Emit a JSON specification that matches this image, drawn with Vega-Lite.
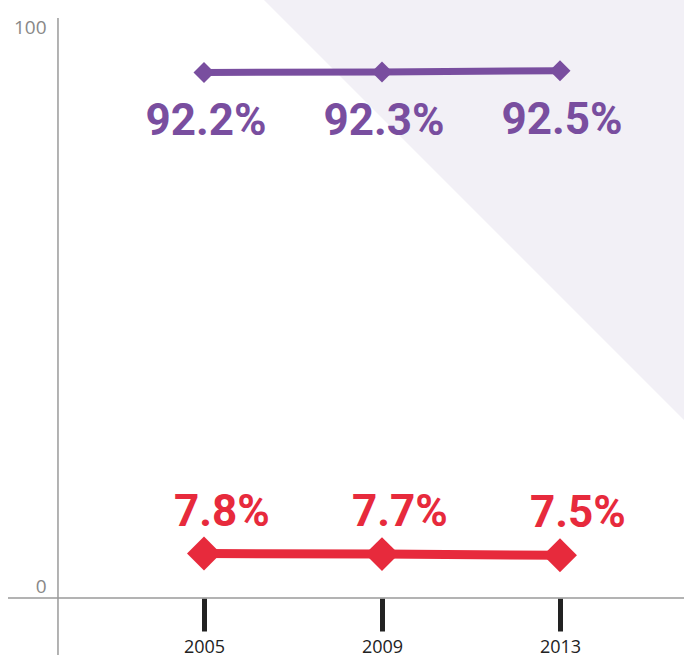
{
  "$schema": "https://vega.github.io/schema/vega-lite/v6.json",
  "width": 684,
  "height": 659,
  "padding": 0,
  "autosize": {"type": "none"},
  "background": "white",
  "config": {"view": {"stroke": null}},
  "datasets": {
    "series": [
      {"year": 2005, "group": "majority", "value": 92.2, "label": "92.2%"},
      {"year": 2009, "group": "majority", "value": 92.3, "label": "92.3%"},
      {"year": 2013, "group": "majority", "value": 92.5, "label": "92.5%"},
      {"year": 2005, "group": "minority", "value": 7.8, "label": "7.8%"},
      {"year": 2009, "group": "minority", "value": 7.7, "label": "7.7%"},
      {"year": 2013, "group": "minority", "value": 7.5, "label": "7.5%"}
    ],
    "bg": [
      {"year": 2006.348, "value": 104.91, "bottom": 104.91},
      {"year": 2015.787, "value": 104.91, "bottom": 31.23}
    ],
    "hline": [{"year": 2000.596, "year2": 2015.787, "value": 0}],
    "vline": [{"year": 2001.719, "value": 101.75, "value2": -10.0}]
  },
  "encoding": {
    "x": {"field": "year", "type": "quantitative", "scale": {"domain": [2000.416, 2015.787], "nice": false, "zero": false},
      "axis": {"values": [2005, 2009, 2013], "format": "d", "offset": -61, "domain": false, "grid": false, "ticks": true, "tickSize": 33, "tickWidth": 5, "tickColor": "#222222", "labelFont": "Open Sans", "labelFontSize": 18, "labelColor": "#222222", "labelPadding": 7, "title": null}},
    "y": {"field": "value", "type": "quantitative", "scale": {"domain": [-10.702, 104.912], "nice": false, "zero": false},
      "axis": {"values": [0, 100], "offset": -58, "domain": false, "grid": false, "ticks": false, "labelFont": "Open Sans", "labelFontSize": 19, "labelColor": "#888888", "labelPadding": 12, "labelOffset": {"condition": {"test": "datum.value == 0", "value": -11}, "value": 0}, "title": null}}
  },
  "layer": [
    {
      "data": {"name": "bg"},
      "mark": {"type": "area", "color": "#f2f0f6", "opacity": 1},
      "encoding": {
        "y2": {"field": "bottom"}
      }
    },
    {
      "data": {"name": "hline"},
      "mark": {"type": "rule", "color": "#9a9a9a", "strokeWidth": 1.5},
      "encoding": {
        "x2": {"field": "year2"}
      }
    },
    {
      "data": {"name": "vline"},
      "mark": {"type": "rule", "color": "#9a9a9a", "strokeWidth": 1.5},
      "encoding": {
        "y2": {"field": "value2"}
      }
    },
    {
      "data": {"name": "series"},
      "mark": {"type": "line"},
      "encoding": {
        "color": {"field": "group", "type": "nominal", "scale": {"domain": ["majority", "minority"], "range": ["#794e9f", "#e72a3c"]}, "legend": null},
        "strokeWidth": {"field": "group", "type": "nominal", "scale": {"domain": ["majority", "minority"], "range": [7, 9]}, "legend": null}
      }
    },
    {
      "data": {"name": "series"},
      "mark": {"type": "point", "shape": "diamond", "filled": true, "opacity": 1},
      "encoding": {
        "color": {"field": "group", "type": "nominal", "scale": {"domain": ["majority", "minority"], "range": ["#794e9f", "#e72a3c"]}, "legend": null},
        "size": {"field": "group", "type": "nominal", "scale": {"domain": ["majority", "minority"], "range": [441, 1150]}, "legend": null}
      }
    },
    {
      "data": {"name": "series"},
      "transform": [{"filter": "datum.group == 'majority'"}],
      "mark": {"type": "text", "font": "Roboto", "fontWeight": "bold", "fontSize": 44, "align": "center", "baseline": "alphabetic", "dx": 2, "dy": 63, "color": "#794e9f"},
      "encoding": {
        "text": {"field": "label", "type": "nominal"}
      }
    },
    {
      "data": {"name": "series"},
      "transform": [{"filter": "datum.group == 'minority'"}],
      "mark": {"type": "text", "font": "Roboto", "fontWeight": "bold", "fontSize": 44, "align": "center", "baseline": "alphabetic", "dx": 18, "dy": -28, "color": "#e72a3c"},
      "encoding": {
        "text": {"field": "label", "type": "nominal"}
      }
    }
  ]
}
